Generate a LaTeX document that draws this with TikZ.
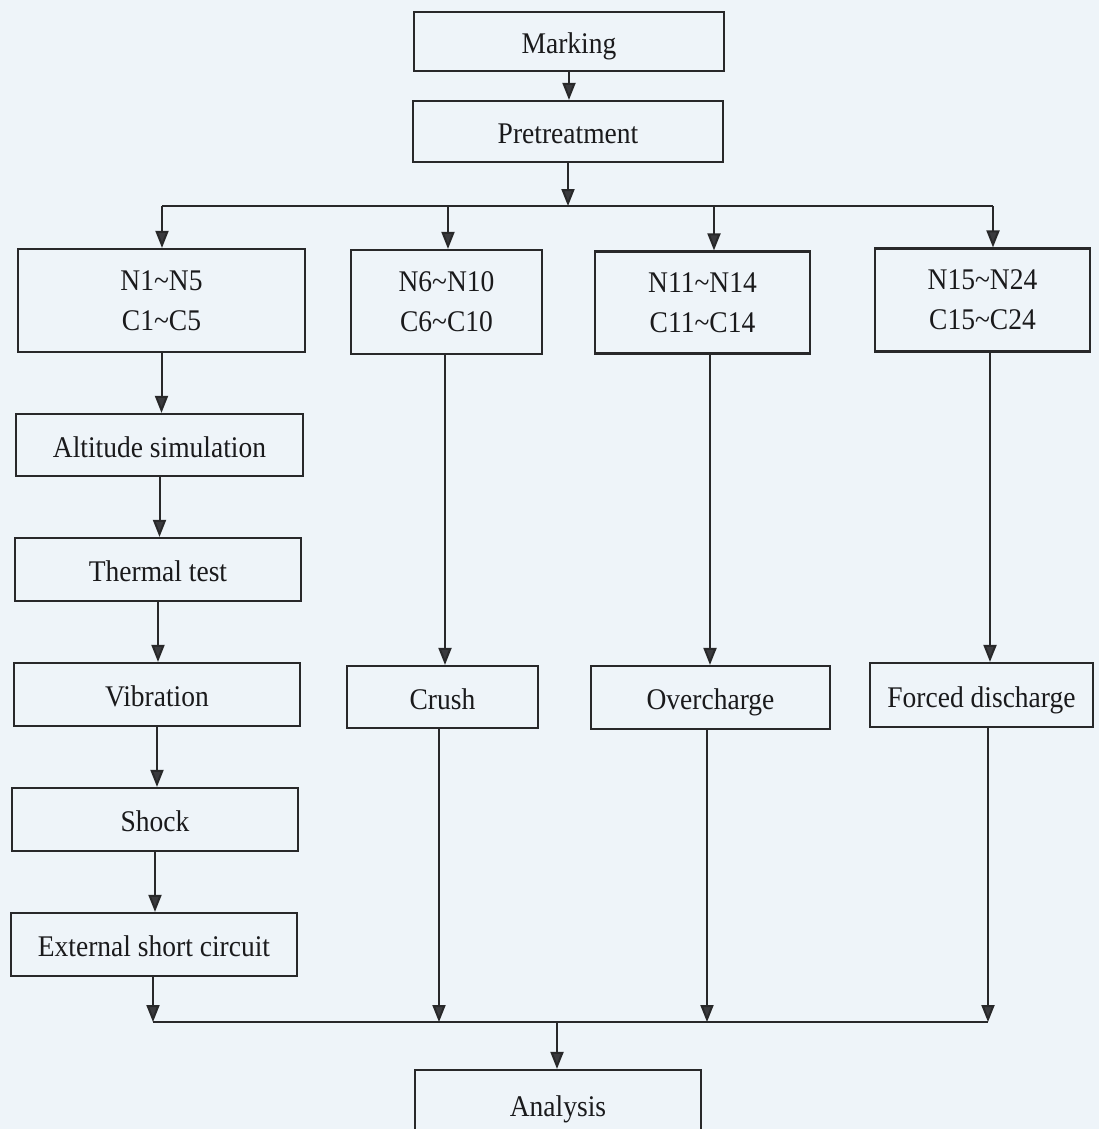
\documentclass[tikz,border=0pt]{standalone}
\usepackage{fontspec}
\setmainfont{Liberation Serif}[FakeStretch=0.917]
\usetikzlibrary{arrows.meta,calc}
\definecolor{bgc}{RGB}{238,244,249}
\definecolor{linec}{RGB}{40,40,42}
\definecolor{tipc}{RGB}{58,58,62}
\definecolor{textc}{RGB}{26,26,28}
\tikzset{
  box/.style={draw=linec, line width=2.2pt, fill=none, inner sep=0pt, align=center,
    text=textc, font=\fontsize{30}{40}\selectfont},
  onebox/.style={box, text height=24pt, text depth=0pt},
  arr/.style={draw=linec, line width=2pt,
    -{Triangle[length=17pt,width=13pt,fill=tipc]}},
  ln/.style={draw=linec, line width=2pt},
}
\begin{document}
\begin{tikzpicture}[x=1pt,y=-1pt]
\clip (0,0) rectangle (1099,1129);
\fill[bgc] (0,0) rectangle (1099,1129);
% top boxes
\node[onebox, minimum width=310pt, minimum height=59pt] (mark) at (569,41.5) {Marking};
\node[onebox, minimum width=310pt, minimum height=61pt] (pre) at (568,131.5) {Pretreatment};
% group boxes
\node[box, minimum width=287pt, minimum height=103pt] (g1) at (161.5,300.5) {N1\textasciitilde N5\\C1\textasciitilde C5};
\node[box, minimum width=191pt, minimum height=104pt] (g2) at (446.5,302) {N6\textasciitilde N10\\C6\textasciitilde C10};
\node[box, minimum width=215pt, minimum height=102pt] (g3) at (702.5,302.5) {N11\textasciitilde N14\\C11\textasciitilde C14};
\node[box, minimum width=215pt, minimum height=103pt] (g4) at (982.5,300) {N15\textasciitilde N24\\C15\textasciitilde C24};
% left chain
\node[onebox, minimum width=287pt, minimum height=62pt] (alt) at (159.5,445) {Altitude simulation};
\node[onebox, minimum width=286pt, minimum height=63pt] (therm) at (158,569.5) {Thermal test};
\node[onebox, minimum width=286pt, minimum height=63pt] (vib) at (157,694.5) {Vibration};
\node[onebox, minimum width=286pt, minimum height=63pt] (shock) at (155,819.5) {Shock};
\node[onebox, minimum width=286pt, minimum height=63pt] (ext) at (154,944.5) {External short circuit};
% other tests
\node[onebox, minimum width=191pt, minimum height=62pt] (crush) at (442.5,697) {Crush};
\node[onebox, minimum width=239pt, minimum height=63pt] (over) at (710.5,697.5) {Overcharge};
\node[onebox, minimum width=223pt, minimum height=64pt] (forced) at (981.5,695) {Forced discharge};
% analysis (cut off at the bottom)
\node[onebox, minimum width=286pt, minimum height=68pt] (ana) at (558,1104) {Analysis};
% helper coordinates
\coordinate (busT) at (568,206);
\coordinate (busTL) at (162,206);
\coordinate (busTR) at (993,206);
\coordinate (xa2) at (448,0);
\coordinate (xa3) at (714,0);
\coordinate (xb2) at (445,0);
\coordinate (xb3) at (710,0);
\coordinate (xb4) at (990,0);
\coordinate (busB) at (557,1022);
\coordinate (busBL) at (153,1022);
\coordinate (busBR) at (988,1022);
\coordinate (xc2) at (439,0);
\coordinate (xc3) at (707,0);
% connectors top
\draw[arr] (mark.south) -- (mark.south |- pre.north);
\draw[arr] (pre.south) -- (pre.south |- busT);
\draw[ln] (busTL) -- (busTR);
\draw[arr] (busTL) -- (busTL |- g1.north);
\draw[arr] (xa2 |- busT) -- (xa2 |- g2.north);
\draw[arr] (xa3 |- busT) -- (xa3 |- g3.north);
\draw[arr] (busTR) -- (busTR |- g4.north);
% left chain
\draw[arr] (g1.south) -- (g1.south |- alt.north);
\draw[arr] (alt.south) -- (alt.south |- therm.north);
\draw[arr] (therm.south) -- (therm.south |- vib.north);
\draw[arr] (vib.south) -- (vib.south |- shock.north);
\draw[arr] (shock.south) -- (shock.south |- ext.north);
% columns
\draw[arr] (xb2 |- g2.south) -- (xb2 |- crush.north);
\draw[arr] (xb3 |- g3.south) -- (xb3 |- over.north);
\draw[arr] (xb4 |- g4.south) -- (xb4 |- forced.north);
% merge
\draw[arr] (busBL |- ext.south) -- (busBL);
\draw[arr] (xc2 |- crush.south) -- (xc2 |- busB);
\draw[arr] (xc3 |- over.south) -- (xc3 |- busB);
\draw[arr] (busBR |- forced.south) -- (busBR);
\draw[ln] (busBL) -- (busBR);
\draw[arr] (busB) -- (busB |- ana.north);
\end{tikzpicture}
\end{document}
